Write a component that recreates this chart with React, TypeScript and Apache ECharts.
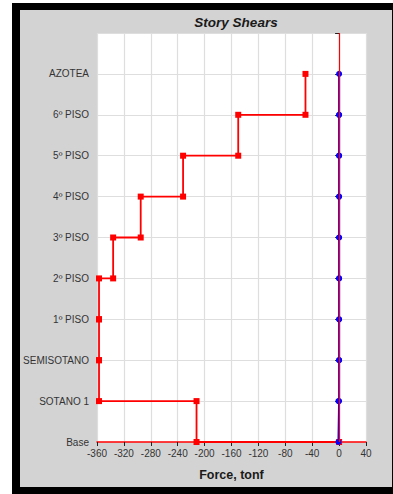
import React, { useEffect, useRef } from "react";
import * as echarts from "echarts";

// Story levels, bottom to top (y = index)
const levels = [
  "Base",
  "SOTANO 1",
  "SEMISOTANO",
  "1º PISO",
  "2º PISO",
  "3º PISO",
  "4º PISO",
  "5º PISO",
  "6º PISO",
  "AZOTEA",
];

// Stories, top to bottom; each spans its level down to the one below
const stories = ["AZOTEA", "6º PISO", "5º PISO", "4º PISO", "3º PISO", "2º PISO", "1º PISO", "SEMISOTANO", "SOTANO 1"];
// Story shear, direction X (tonf)
const shearX = [-50, -150, -232, -295, -336, -357, -357, -357, -212];
// Story shear, direction Y (tonf)
const shearY = [0, 0, 0, 0, 0, 0, 0, 0, -1];

const xTicks = { min: -360, max: 40, interval: 40 };

function stepPoints(values: number[], closeAtZero: boolean) {
  const pts: number[][] = [];
  stories.forEach((name, i) => {
    const top = levels.indexOf(name);
    pts.push([values[i], top], [values[i], top - 1]);
  });
  if (closeAtZero) pts.push([0, 0]);
  return pts;
}

const FONT = "'Liberation Sans', Arial, sans-serif";

export default function App() {
  const ref = useRef<HTMLDivElement>(null);

  useEffect(() => {
    if (!ref.current) return;
    const chart = echarts.init(ref.current, undefined, { renderer: "svg" });
    chart.setOption({
      animation: false,
      backgroundColor: "#ffffff",
      graphic: [
        { type: "rect", z: -10, silent: true, shape: { x: 12, y: 3, width: 381, height: 491 }, style: { fill: "#000000" } },
        { type: "rect", z: -9, silent: true, shape: { x: 20, y: 10, width: 372, height: 477 }, style: { fill: "#d3d3d3" } },
      ],
      title: {
        text: "Story Shears",
        left: 231,
        top: 10,
        textAlign: "center",
        textStyle: { fontFamily: FONT, fontSize: 13.5, fontWeight: "bold", fontStyle: "italic", color: "#1a1a1a" },
      },
      grid: { left: 97, right: 27, top: 33, bottom: 52, backgroundColor: "#ffffff", show: true, borderWidth: 0 },
      xAxis: {
        type: "value",
        min: xTicks.min,
        max: xTicks.max,
        interval: xTicks.interval,
        name: "Force, tonf",
        nameLocation: "middle",
        nameGap: 26,
        nameTextStyle: { fontFamily: FONT, fontSize: 12.5, fontWeight: "bold", color: "#1a1a1a" },
        axisLine: { show: true, onZero: false, lineStyle: { color: "#ff0000", width: 1.5 } },
        axisTick: { show: true, length: 4, lineStyle: { color: "#222" } },
        axisLabel: { fontFamily: FONT, fontSize: 10, color: "#333", margin: 6 },
        splitLine: { show: true, lineStyle: { color: "#dedede", width: 1.2 } },
      },
      yAxis: {
        type: "value",
        min: 0,
        max: levels.length,
        interval: 1,
        axisLine: { show: false },
        axisTick: { show: true, length: 4, lineStyle: { color: "#222" } },
        axisLabel: {
          fontFamily: FONT,
          fontSize: 10,
          color: "#333",
          margin: 8,
          formatter: (v: number) => levels[v] ?? "",
        },
        splitLine: { show: true, lineStyle: { color: "#dedede", width: 1.2 } },
      },
      series: [
        {
          name: "X",
          type: "line",
          data: stepPoints(shearX, true),
          symbol: "rect",
          symbolSize: 6,
          lineStyle: { color: "#ff0000", width: 1.8 },
          itemStyle: { color: "#ff0000" },
          markLine: {
            silent: true,
            symbol: "none",
            label: { show: false },
            lineStyle: { color: "#ff0000", width: 1.2, type: "solid" },
            data: [{ xAxis: 0 }],
          },
          z: 2,
        },
        {
          name: "Y",
          type: "line",
          data: stepPoints(shearY, false),
          symbol: "circle",
          symbolSize: 6,
          lineStyle: { color: "#0000ff", width: 2 },
          itemStyle: { color: "#0000ff" },
          z: 3,
        },
      ],
    });
    return () => chart.dispose();
  }, []);

  return (
    <div
      ref={ref}
      style={{ position: "absolute", left: 0, top: 0, width: 393, height: 494 }}
    />
  );
}
